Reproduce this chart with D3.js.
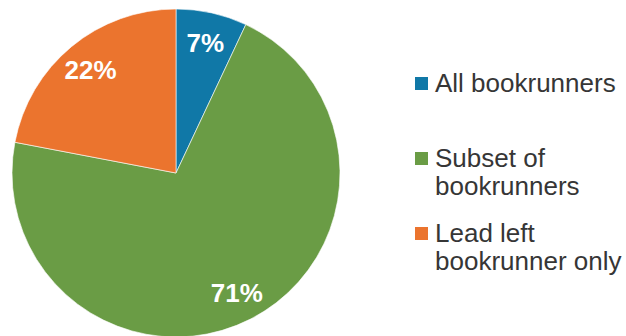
<!DOCTYPE html>
<html>
<head>
<meta charset="utf-8">
<script src="https://cdn.jsdelivr.net/npm/d3@7"></script>
<style>
  html, body { margin: 0; padding: 0; background: #fff; }
  svg { display: block; }
</style>
</head>
<body>
<svg id="chart" width="626" height="336"></svg>
<script>
const categories = ["All bookrunners", "Subset of bookrunners", "Lead left bookrunner only"];
const values = [7, 71, 22];
const valueLabels = ["7%", "71%", "22%"];
const legendLines = [["All bookrunners"], ["Subset of", "bookrunners"], ["Lead left", "bookrunner only"]];
const colors = ["#1078A7", "#6A9C45", "#EB742E"];

const svg = d3.select("#chart");
const cx = 176, cy = 173, r = 164;

const pie = d3.pie().sort(null).value(d => d)(values);
const arc = d3.arc().innerRadius(0).outerRadius(r);
const labelArc = d3.arc().innerRadius(134).outerRadius(134);

const g = svg.append("g").attr("transform", `translate(${cx},${cy})`);
g.selectAll("path").data(pie).join("path")
  .attr("d", arc)
  .attr("fill", (d, i) => colors[i])
  .attr("stroke", "#ffffff")
  .attr("stroke-width", 0.6);

g.selectAll("text").data(pie).join("text")
  .attr("transform", d => `translate(${labelArc.centroid(d)})`)
  .attr("text-anchor", "middle")
  .attr("dy", "0.36em")
  .attr("fill", "#ffffff")
  .attr("font-family", "Liberation Sans, Arial, sans-serif")
  .attr("font-weight", "bold")
  .attr("font-size", 26)
  .text((d, i) => valueLabels[i]);

const legendY = d3.scalePoint().domain(categories).range([77, 227]);
const lg = svg.append("g");
const items = lg.selectAll("g").data(categories).join("g")
  .attr("transform", d => `translate(415,${legendY(d)})`);
items.append("rect")
  .attr("width", 13).attr("height", 13)
  .attr("fill", (d, i) => colors[i]);
items.append("text")
  .attr("x", 20)
  .attr("y", 14.5)
  .attr("fill", "#363636")
  .attr("font-family", "Liberation Sans, Arial, sans-serif")
  .attr("font-size", 26)
  .selectAll("tspan").data((d, i) => legendLines[i]).join("tspan")
  .attr("x", 20)
  .attr("dy", (d, j) => j === 0 ? 0 : 28.5)
  .text(d => d);
</script>
</body>
</html>
